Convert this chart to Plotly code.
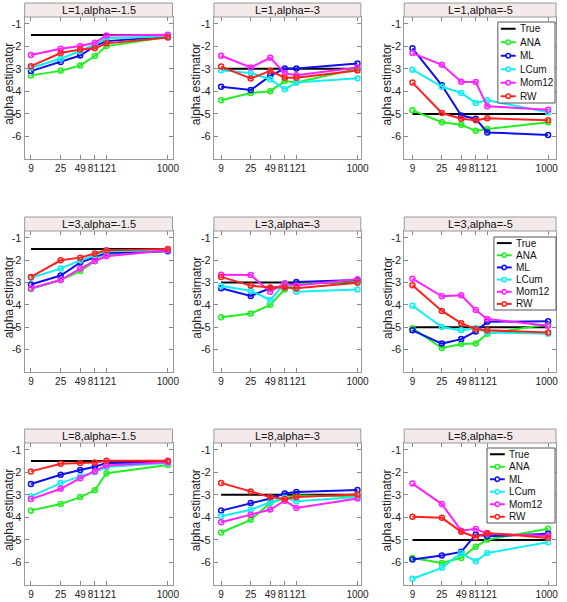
import plotly.graph_objects as go

# ---------------- data ----------------
X_VALUES = [9, 25, 49, 81, 121, 1000]
X_LABELS = ["9", "25", "49", "81\u00a0", "\u00a0121", "1000"]
X_LABELS_RIGHT = ["9", "25", "49", "81\u00a0", "\u00a0121", "1000\u00a0"]
Y_TICKS = [-1, -2, -3, -4, -5, -6]
L_VALUES = [1, 3, 8]
ALPHA_VALUES = [-1.5, -3, -5]

SERIES_NAMES = ["ANA", "ML", "LCum", "Mom12", "RW"]
SERIES_COLORS = ["#22ee22", "#1010ee", "#11eeee", "#ff22ff", "#ff2020"]

# each list holds 9 panels ordered row by row (L=1,3,8) x (alpha=-1.5,-3,-5)
ANA_VALUES = [
    [-3.29, -3.09, -2.85, -2.43, -1.99, -1.59],
    [-4.39, -4.07, -3.99, -3.54, -3.61, -3.00],
    [-4.84, -5.37, -5.48, -5.75, -5.67, -5.37],
    [-3.29, -2.89, -2.49, -2.05, -1.75, -1.59],
    [-4.55, -4.39, -4.00, -3.31, -3.04, -2.94],
    [-5.04, -5.93, -5.75, -5.73, -5.29, -4.87],
    [-3.69, -3.41, -3.10, -2.80, -2.04, -1.68],
    [-4.67, -4.11, -3.36, -3.15, -3.03, -3.06],
    [-5.80, -6.02, -5.80, -5.30, -4.99, -4.50],
]
ML_VALUES = [
    [-3.10, -2.70, -2.41, -1.99, -1.77, -1.58],
    [-3.79, -3.94, -3.31, -2.99, -2.99, -2.76],
    [-2.09, -3.73, -5.07, -5.21, -5.82, -5.93],
    [-3.09, -2.69, -2.11, -1.86, -1.68, -1.61],
    [-3.26, -3.60, -3.26, -3.16, -2.98, -2.89],
    [-5.14, -5.73, -5.53, -5.19, -4.76, -4.73],
    [-2.52, -2.11, -1.90, -1.75, -1.59, -1.56],
    [-3.70, -3.36, -3.16, -2.94, -2.87, -2.78],
    [-5.87, -5.69, -5.53, -4.76, -4.84, -4.73],
]
LCUM_VALUES = [
    [-2.95, -2.55, -2.21, -1.92, -1.64, -1.55],
    [-3.06, -3.19, -3.46, -3.91, -3.61, -3.42],
    [-3.04, -3.79, -4.07, -4.51, -4.39, -4.93],
    [-2.79, -2.38, -2.01, -1.78, -1.61, -1.56],
    [-3.16, -3.37, -3.78, -3.04, -3.41, -3.31],
    [-4.04, -4.99, -5.14, -5.03, -5.23, -5.29],
    [-3.07, -2.48, -2.18, -1.99, -1.77, -1.59],
    [-3.95, -3.66, -3.33, -3.13, -3.28, -3.10],
    [-6.72, -6.24, -5.58, -5.95, -5.58, -5.10],
]
MOM12_VALUES = [
    [-2.39, -2.11, -1.99, -1.84, -1.52, -1.49],
    [-2.42, -2.94, -2.51, -3.19, -3.28, -2.94],
    [-2.30, -2.82, -3.57, -3.58, -4.66, -4.81],
    [-3.26, -2.89, -2.38, -2.04, -1.83, -1.56],
    [-2.66, -2.67, -3.41, -3.04, -3.14, -2.86],
    [-2.83, -3.62, -3.57, -4.23, -4.63, -4.93],
    [-3.19, -2.73, -2.26, -1.96, -1.70, -1.55],
    [-4.22, -3.88, -3.65, -3.26, -3.58, -3.16],
    [-2.50, -3.41, -4.59, -4.51, -4.73, -4.81],
]
RW_VALUES = [
    [-2.88, -2.30, -2.14, -2.09, -1.87, -1.61],
    [-2.90, -3.43, -3.09, -3.39, -3.39, -3.07],
    [-3.61, -4.96, -5.21, -5.28, -5.19, -5.28],
    [-2.75, -2.01, -1.89, -1.71, -1.56, -1.50],
    [-2.75, -3.14, -3.22, -3.22, -3.26, -3.01],
    [-3.12, -4.27, -4.82, -5.09, -5.14, -5.23],
    [-1.96, -1.62, -1.59, -1.56, -1.49, -1.49],
    [-2.47, -2.85, -3.10, -3.18, -3.10, -2.99],
    [-3.97, -4.02, -4.64, -4.88, -4.69, -4.91],
]
ALL_SERIES = [ANA_VALUES, ML_VALUES, LCUM_VALUES, MOM12_VALUES, RW_VALUES]

# ---------------- layout helpers ----------------
W, H = 567, 602
FONT = "Liberation Sans, Arial, sans-serif"
COLS_PX = [(25, 175), (217, 366), (410, 564)]
COL_XRANGE = [[0.86, 3.07], [0.846, 3.05], [0.83, 3.12]]
ROWS_PX = [(17, 159), (231, 372), (443, 585)]
TITLE_H = 14
YTITLE_X = [9, 199, 393]
LEGEND_PX = [  # box x0, x1, y0, y1 in pixels (for column 3 panels)
    (505, 563, 22, 103),
    (501, 564, 237, 310),
    (494, 563, 448, 523),
]


def px(x):
    return x / W


def py(y):
    return 1 - y / H


fig = go.Figure()
shapes = []
annotations = []
layout_axes = {}

for r in range(3):
    for c in range(3):
        i = r * 3 + c
        n = "" if i == 0 else str(i + 1)
        xa, ya = "x" + n, "y" + n
        alpha = ALPHA_VALUES[c]
        # True line
        fig.add_trace(go.Scatter(
            x=[X_VALUES[0], X_VALUES[-1]], y=[alpha, alpha], mode="lines",
            line=dict(color="black", width=2), xaxis=xa, yaxis=ya,
            showlegend=False, name="True"))
        for name, color, vals in zip(SERIES_NAMES, SERIES_COLORS, ALL_SERIES):
            fig.add_trace(go.Scatter(
                x=X_VALUES, y=vals[i], mode="lines+markers",
                line=dict(color=color, width=2),
                marker=dict(symbol="circle-open", size=5, color=color,
                            line=dict(width=1.5, color=color)),
                xaxis=xa, yaxis=ya, showlegend=False, name=name))
        x0, x1 = COLS_PX[c]
        y0, y1 = ROWS_PX[r]
        layout_axes["xaxis" + n] = dict(
            type="log", range=COL_XRANGE[c], domain=[px(x0), px(x1)],
            anchor=ya, tickvals=X_VALUES,
            ticktext=X_LABELS_RIGHT if c == 2 else X_LABELS,
            tickangle=0,
            ticks="inside", ticklen=4, tickcolor="#888", tickwidth=1,
            showline=True, linecolor="#9a9a9a", linewidth=1, mirror="ticks",
            showgrid=False, zeroline=False,
            tickfont=dict(family=FONT, size=10, color="#222"))
        layout_axes["yaxis" + n] = dict(
            range=[-7, -0.7], domain=[py(y1), py(y0)], anchor=xa,
            tickvals=Y_TICKS, ticktext=[str(v) for v in Y_TICKS],
            ticks="inside", ticklen=4, tickcolor="#888", tickwidth=1,
            showline=True, linecolor="#9a9a9a", linewidth=1, mirror="ticks",
            showgrid=False, zeroline=False,
            tickfont=dict(family=FONT, size=11, color="#222"))
        # title box
        shapes.append(dict(type="rect", xref="paper", yref="paper",
                           x0=px(x0), x1=px(x1), y0=py(y0), y1=py(y0 - TITLE_H),
                           fillcolor="#f3e9e9", line=dict(color="#9a9a9a", width=1)))
        alpha_txt = ("%g" % alpha)
        annotations.append(dict(
            text="L=%d,alpha=%s" % (L_VALUES[r], alpha_txt),
            xref="paper", yref="paper", x=px((x0 + x1) / 2), y=py(y0 - TITLE_H / 2),
            xanchor="center", yanchor="middle", showarrow=False,
            font=dict(family=FONT, size=11, color="#111")))
        # y title
        annotations.append(dict(
            text="alpha estimator", textangle=-90,
            xref="paper", yref="paper", x=px(YTITLE_X[c]), y=py((y0 + y1) / 2 - 4),
            xanchor="center", yanchor="middle", showarrow=False,
            font=dict(family=FONT, size=12, color="#222")))

# legends (column 3 panels)
LEG_NAMES = ["True"] + SERIES_NAMES
LEG_COLORS = ["black"] + SERIES_COLORS
for r in range(3):
    bx0, bx1, by0, by1 = LEGEND_PX[r]
    shapes.append(dict(type="rect", xref="paper", yref="paper", layer="above",
                       x0=px(bx0), x1=px(bx1), y0=py(by1), y1=py(by0),
                       fillcolor="white", line=dict(color="#555", width=1)))
    step = (by1 - by0) / 6.0
    for k, (nm, col) in enumerate(zip(LEG_NAMES, LEG_COLORS)):
        yy = by0 + step * (k + 0.5)
        lx0, lx1 = bx0 + 3, bx0 + 18
        shapes.append(dict(type="line", xref="paper", yref="paper", layer="above",
                           x0=px(lx0), x1=px(lx1), y0=py(yy), y1=py(yy),
                           line=dict(color=col, width=2)))
        if k > 0:
            cx = (lx0 + lx1) / 2
            shapes.append(dict(type="circle", xref="paper", yref="paper", layer="above",
                               x0=px(cx - 2.2), x1=px(cx + 2.2),
                               y0=py(yy + 2.2), y1=py(yy - 2.2),
                               fillcolor="white", line=dict(color=col, width=1.5)))
        annotations.append(dict(
            text=nm, xref="paper", yref="paper", x=px(lx1 + 2), y=py(yy),
            xanchor="left", yanchor="middle", showarrow=False,
            font=dict(family=FONT, size=10, color="#111")))

fig.update_layout(
    width=W, height=H, margin=dict(l=0, r=0, t=0, b=0),
    paper_bgcolor="white", plot_bgcolor="white",
    showlegend=False, shapes=shapes, annotations=annotations,
    font=dict(family=FONT),
    **layout_axes)

fig.write_html("out.html",
               config={"displayModeBar": False},
               post_script="document.body.style.margin='0';"
                           "document.body.style.overflow='hidden';")
